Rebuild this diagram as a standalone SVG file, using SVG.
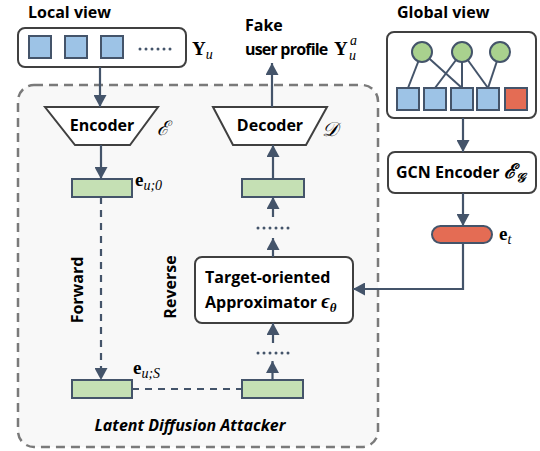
<svg xmlns="http://www.w3.org/2000/svg" width="540" height="451" viewBox="0 0 540 451">
<defs>
<marker id="ah" viewBox="0 0 12 13" refX="12" refY="6.5" markerWidth="12" markerHeight="13" markerUnits="userSpaceOnUse" orient="auto">
<path d="M0,0 L12,6.5 L0,13 z" fill="#44546a"/>
</marker>
</defs>
<style>
.lbl{font-family:"Open Sans","Noto Sans","Liberation Sans",sans-serif;font-weight:bold;font-size:16px;fill:#000}
.math{font-family:"Liberation Serif","DejaVu Serif",serif;fill:#000}
.node{fill:#fff;stroke:#404040;stroke-width:2}
.sq{fill:#9dc3e6;stroke:#44546a;stroke-width:2}
.lat{fill:#c5e0b4;stroke:#44546a;stroke-width:2}
.con{stroke:#44546a;stroke-width:2.2;fill:none}
.dash{stroke-dasharray:7,6}
.edge{stroke:#44546a;stroke-width:2}
.dots{fill:#44546a}
</style>
<rect id="attacker" x="18" y="85" width="360" height="362" rx="16" fill="#f8f8f8" stroke="#7a7a7a" stroke-width="2.5" stroke-dasharray="9,6"/>
<text class="lbl" x="190" y="431" text-anchor="middle" font-style="italic">Latent Diffusion Attacker</text>

<g id="local-view">
<text class="lbl" x="28" y="18">Local view</text>
<rect class="node" x="18" y="28" width="168" height="39" rx="7"/>
<rect class="sq" x="29" y="36" width="22" height="22"/>
<rect class="sq" x="65" y="36" width="22" height="22"/>
<rect class="sq" x="101" y="36" width="22" height="22"/>
<g class="dots"><circle cx="140" cy="49" r="1.5"/><circle cx="146" cy="49" r="1.5"/><circle cx="152" cy="49" r="1.5"/><circle cx="158" cy="49" r="1.5"/><circle cx="164" cy="49" r="1.5"/><circle cx="170" cy="49" r="1.5"/></g>
<text class="math" x="192" y="55" font-size="19" font-weight="bold">Y<tspan font-style="italic" font-weight="normal" font-size="14" dy="4">u</tspan></text>
</g>

<g id="encoder">
<path class="node" d="M45,107 L158,107 L130,145 L75,145 z"/>
<text class="lbl" x="102" y="131" text-anchor="middle">Encoder</text>
<text class="math" x="157" y="135" font-size="20" font-style="italic">ℰ</text>
</g>

<g id="decoder">
<path class="node" d="M213,107 L327,107 L306,145 L233,145 z"/>
<text class="lbl" x="270" y="131" text-anchor="middle">Decoder</text>
<text class="math" x="322" y="136" font-size="20" font-style="italic">𝒟</text>
</g>

<g id="fake-profile">
<text class="lbl" x="245" y="31">Fake</text>
<text class="lbl" x="245" y="55" letter-spacing="-0.8">user profile</text>
<text class="math" x="334" y="55" font-size="19" font-weight="bold">Y</text>
<text class="math" x="349" y="60" font-size="14" font-style="italic">u</text>
<text class="math" x="350" y="45" font-size="14" font-style="italic">a</text>
</g>

<g id="e-u0">
<rect class="lat" x="72" y="179" width="60" height="18"/>
<text class="math" x="135" y="186" font-size="19" font-weight="bold">e<tspan font-style="italic" font-weight="normal" font-size="14" dy="4">u;0</tspan></text>
</g>

<g id="e-uS">
<rect class="lat" x="72" y="380" width="60" height="18"/>
<text class="math" x="133" y="374" font-size="19" font-weight="bold">e<tspan font-style="italic" font-weight="normal" font-size="14" dy="4">u;S</tspan></text>
</g>

<g id="z-S">
<rect class="lat" x="242" y="380" width="61" height="18"/>
</g>

<g id="z-0">
<rect class="lat" x="242" y="179" width="62" height="18"/>
</g>

<g id="approximator">
<rect class="node" x="195" y="257" width="158" height="66" rx="7"/>
<text class="lbl" x="205" y="283">Target-oriented</text>
<text class="lbl" x="205" y="308">Approximator <tspan class="math" font-size="20" font-style="italic">ϵ</tspan><tspan class="math" font-size="13" font-style="italic" dy="4">θ</tspan></text>
</g>

<g id="global-view">
<text class="lbl" x="397" y="18">Global view</text>
<rect class="node" x="387" y="32" width="149" height="86" rx="7"/>
<g class="edge">
<line x1="422" y1="52" x2="408" y2="88"/>
<line x1="422" y1="52" x2="462" y2="88"/>
<line x1="462" y1="52" x2="435" y2="88"/>
<line x1="462" y1="52" x2="462" y2="88"/>
<line x1="462" y1="52" x2="488" y2="88"/>
<line x1="500" y1="52" x2="488" y2="88"/>
</g>
<circle cx="422" cy="52" r="10" fill="#a9d18e" stroke="#44546a" stroke-width="2"/>
<circle cx="462" cy="52" r="10" fill="#a9d18e" stroke="#44546a" stroke-width="2"/>
<circle cx="500" cy="52" r="10" fill="#a9d18e" stroke="#44546a" stroke-width="2"/>
<rect class="sq" x="397" y="88" width="22" height="22"/>
<rect class="sq" x="424" y="88" width="22" height="22"/>
<rect class="sq" x="451" y="88" width="22" height="22"/>
<rect class="sq" x="477" y="88" width="22" height="22"/>
<rect x="505" y="88" width="22" height="22" fill="#e46c54" stroke="#44546a" stroke-width="2"/>
</g>

<g id="gcn-encoder">
<rect class="node" x="388" y="152" width="148" height="41" rx="7"/>
<text class="lbl" x="396" y="178">GCN Encoder <tspan class="math" font-size="20" font-style="italic">ℰ</tspan><tspan class="math" font-size="13" font-style="italic" dy="4">𝒢</tspan></text>
</g>

<g id="e-t">
<rect x="432" y="226" width="60" height="17" rx="8.5" fill="#e46c54" stroke="#44546a" stroke-width="2"/>
<text class="math" x="499" y="240" font-size="19" font-weight="bold">e<tspan font-style="italic" font-weight="normal" font-size="14" dy="4">t</tspan></text>
</g>

<g id="side-labels">
<text class="lbl" transform="translate(83,290) rotate(-90)" text-anchor="middle">Forward</text>
<text class="lbl" transform="translate(176,287) rotate(-90)" text-anchor="middle">Reverse</text>
</g>

<g id="connectors">
<line class="con" x1="100" y1="67" x2="100" y2="107" marker-end="url(#ah)"/>
<line class="con" x1="101" y1="145" x2="101" y2="179" marker-end="url(#ah)"/>
<line class="con dash" x1="101" y1="197" x2="101" y2="380" marker-end="url(#ah)"/>
<line class="con dash" x1="132" y1="389" x2="242" y2="389"/>
<line class="con" x1="272.5" y1="380" x2="272.5" y2="361" marker-end="url(#ah)"/>
<g class="dots"><circle cx="258" cy="353" r="1.5"/><circle cx="264" cy="353" r="1.5"/><circle cx="270" cy="353" r="1.5"/><circle cx="276" cy="353" r="1.5"/><circle cx="282" cy="353" r="1.5"/><circle cx="288" cy="353" r="1.5"/></g>
<line class="con" x1="273" y1="343" x2="273" y2="323" marker-end="url(#ah)"/>
<line class="con" x1="273" y1="257" x2="273" y2="238" marker-end="url(#ah)"/>
<g class="dots"><circle cx="258" cy="228" r="1.5"/><circle cx="264" cy="228" r="1.5"/><circle cx="270" cy="228" r="1.5"/><circle cx="276" cy="228" r="1.5"/><circle cx="282" cy="228" r="1.5"/><circle cx="288" cy="228" r="1.5"/></g>
<line class="con" x1="273" y1="217" x2="273" y2="197" marker-end="url(#ah)"/>
<line class="con" x1="273" y1="179" x2="273" y2="145" marker-end="url(#ah)"/>
<line class="con" x1="272" y1="107" x2="272" y2="63" marker-end="url(#ah)"/>
<line class="con" x1="463" y1="118" x2="463" y2="152" marker-end="url(#ah)"/>
<line class="con" x1="463" y1="193" x2="463" y2="226" marker-end="url(#ah)"/>
<polyline class="con" points="463,243 463,289 353,289" marker-end="url(#ah)"/>
</g>
</svg>
